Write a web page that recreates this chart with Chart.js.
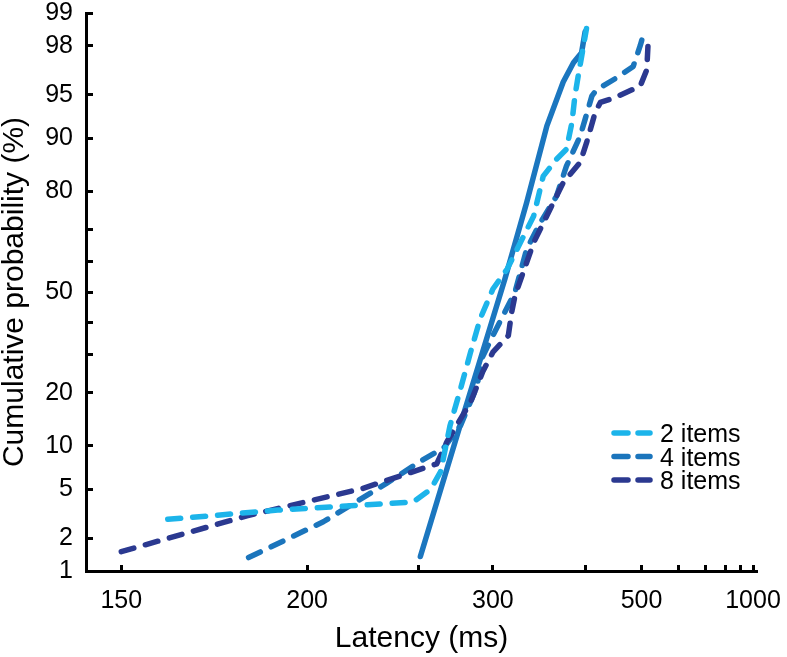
<!DOCTYPE html>
<html>
<head>
<meta charset="utf-8">
<script src="https://cdn.jsdelivr.net/npm/chart.js@4.4.1/dist/chart.umd.min.js"></script>
<style>
  html, body { margin: 0; padding: 0; background: #fff; }
  #wrap { width: 787px; height: 657px; }
</style>
</head>
<body>
<div id="wrap"><canvas id="chart" width="787" height="657"></canvas></div>
<script>
// latency (ms) vs cumulative probability (%)
const latency2 = [160, 190, 247, 257, 263, 269, 276, 283, 290, 300, 312, 324, 337, 347, 362, 374, 381, 385, 390, 394, 401];
const prob2 = [2.9, 3.45, 4.0, 5.0, 6.7, 13.3, 21, 30.8, 41.1, 51, 57.6, 66, 73.7, 83.3, 86.6, 88.3, 92.1, 94.9, 96.6, 97.5, 98.6];

const latency4 = [181, 206, 233, 251, 265, 276, 288, 290, 300, 319, 330, 344, 362, 374, 392, 399, 409, 416, 450, 482, 497, 504];
const prob4 = [1.34, 2.77, 5.5, 7.9, 9.7, 13.3, 21.8, 28, 35.8, 50, 64, 71.9, 78.8, 85.3, 90.3, 92.5, 94.9, 95.4, 96.3, 97.0, 98.0, 98.4];

const latency8 = [150, 180.5, 222, 260.6, 267, 276, 283, 292, 300, 313, 316, 319, 337, 354.5, 370, 392, 401, 414, 422, 444, 497, 512, 516];
const prob8 = [1.52, 3.1, 5.06, 7.6, 10.6, 14.5, 17.9, 25.3, 30.8, 35.8, 43.4, 48.8, 66, 75.5, 81.9, 86, 89.3, 93.3, 94.3, 94.7, 95.7, 96.8, 98.35];

// solid line (no legend entry)
const latencyFit = [251, 273, 310, 330, 351, 370, 383, 394, 399];
const probFit = [1.37, 11.1, 54.3, 77.2, 91.7, 96.0, 97.2, 97.7, 98.5];

const xTicksMs = [150, 200, 250, 300, 400, 500, 600, 700, 800, 900, 1000];
const xLabelsMs = [150, 200, 300, 500, 1000];
const yTicksPct = [1, 2, 5, 10, 20, 30, 40, 50, 60, 70, 80, 90, 95, 98, 99];
const yLabelsPct = [1, 2, 5, 10, 20, 50, 80, 90, 95, 98, 99];
const xMinMs = 143.2, xMaxMs = 1037;

const seriesNames = ["2 items", "4 items", "8 items"];
const colors = ["#1cb4ea", "#1b75bc", "#2b3990"];
const fitColor = "#1b76bf";

const FONT = '"Liberation Sans", Arial, Helvetica, sans-serif';
Chart.defaults.font.family = FONT;

// reciprocal time axis, probit probability axis
const recip = ms => -1000 / ms;

function probit(p) {
  const a = [-3.969683028665376e+01, 2.209460984245205e+02, -2.759285104469687e+02, 1.383577518672690e+02, -3.066479806614716e+01, 2.506628277459239e+00];
  const b = [-5.447609879822406e+01, 1.615858368580409e+02, -1.556989798598866e+02, 6.680131188771972e+01, -1.328068155288572e+01];
  const c = [-7.784894002430293e-03, -3.223964580411365e-01, -2.400758277161838e+00, -2.549732539343734e+00, 4.374664141464968e+00, 2.938163982698783e+00];
  const d = [7.784695709041462e-03, 3.224671290700398e-01, 2.445134137142996e+00, 3.754408661907416e+00];
  const pl = 0.02425;
  let q, r;
  if (p < pl) {
    q = Math.sqrt(-2 * Math.log(p));
    return (((((c[0]*q+c[1])*q+c[2])*q+c[3])*q+c[4])*q+c[5]) / ((((d[0]*q+d[1])*q+d[2])*q+d[3])*q+1);
  }
  if (p > 1 - pl) {
    q = Math.sqrt(-2 * Math.log(1 - p));
    return -(((((c[0]*q+c[1])*q+c[2])*q+c[3])*q+c[4])*q+c[5]) / ((((d[0]*q+d[1])*q+d[2])*q+d[3])*q+1);
  }
  q = p - 0.5; r = q * q;
  return (((((a[0]*r+a[1])*r+a[2])*r+a[3])*r+a[4])*r+a[5])*q / (((((b[0]*r+b[1])*r+b[2])*r+b[3])*r+b[4])*r+1);
}

const toPoints = (lat, prob) => lat.map((ms, i) => ({ x: recip(ms), y: probit(prob[i] / 100) }));

function series(label, lat, prob, color, dash, order) {
  return {
    label,
    data: toPoints(lat, prob),
    borderColor: color,
    borderWidth: 5.5,
    borderDash: dash,
    borderCapStyle: "round",
    borderJoinStyle: "round",
    pointRadius: 0,
    tension: 0,
    order,
  };
}

const legendPlugin = {
  id: "insideLegend",
  afterDatasetsDraw(chart) {
    const { ctx, chartArea } = chart;
    const x0 = chartArea.right - 143;
    const tx = chartArea.right - 97;
    let y = chartArea.bottom - 138;
    ctx.save();
    ctx.font = "25px " + FONT;
    ctx.textBaseline = "alphabetic";
    seriesNames.forEach((name, i) => {
      ctx.strokeStyle = colors[i];
      ctx.lineWidth = 5.5;
      ctx.lineCap = "round";
      ctx.setLineDash([14, 10]);
      ctx.beginPath();
      ctx.moveTo(x0, y);
      ctx.lineTo(x0 + 36, y);
      ctx.stroke();
      ctx.setLineDash([]);
      ctx.fillStyle = "#000";
      ctx.fillText(name, tx, y + 9);
      y += 23.5;
    });
    ctx.restore();
  },
};

const tickFont = { size: 25, lineHeight: 1 };
const titleFont = { size: 30, lineHeight: 1 };

new Chart(document.getElementById("chart"), {
  type: "line",
  data: {
    datasets: [
      series("fit", latencyFit, probFit, fitColor, [], 4),
      series(seriesNames[0], latency2, prob2, colors[0], [13, 12], 1),
      series(seriesNames[1], latency4, prob4, colors[1], [13, 12], 3),
      series(seriesNames[2], latency8, prob8, colors[2], [13, 12], 2),
    ],
  },
  options: {
    responsive: false,
    animation: false,
    devicePixelRatio: 1,
    layout: { padding: { top: 13, right: 30, bottom: 0, left: 0 } },
    plugins: { legend: { display: false }, tooltip: { enabled: false } },
    scales: {
      x: {
        type: "linear",
        min: recip(xMinMs),
        max: recip(xMaxMs),
        afterBuildTicks: (s) => { s.ticks = xTicksMs.map((ms) => ({ value: recip(ms) })); },
        afterFit: (s) => { s.height = 86; s.paddingLeft = 0; s.paddingRight = 0; },
        ticks: {
          autoSkip: false,
          maxRotation: 0,
          padding: 24,
          color: "#000",
          font: tickFont,
          callback: (v, i) => (xLabelsMs.includes(xTicksMs[i]) ? String(xTicksMs[i]) : ""),
        },
        grid: { drawOnChartArea: false, tickLength: -6, tickWidth: 3, tickColor: "#000" },
        border: { color: "#000", width: 3 },
        title: { display: true, text: "Latency (ms)", color: "#000", font: { size: 30, lineHeight: 1.2 }, padding: 0 },
      },
      y: {
        type: "linear",
        min: probit(0.01),
        max: probit(0.99),
        afterBuildTicks: (s) => { s.ticks = yTicksPct.map((p) => ({ value: probit(p / 100) })); },
        afterFit: (s) => { s.width = 86; s.paddingTop = 0; s.paddingBottom = 0; },
        ticks: {
          autoSkip: false,
          padding: 20,
          color: "#000",
          font: tickFont,
          callback: (v, i) => (yLabelsPct.includes(yTicksPct[i]) ? String(yTicksPct[i]) : ""),
        },
        grid: { drawOnChartArea: false, tickLength: -7, tickWidth: 3, tickColor: "#000" },
        border: { color: "#000", width: 3 },
        title: { display: true, text: "Cumulative probability (%)", color: "#000", font: titleFont, padding: 0 },
      },
    },
  },
  plugins: [legendPlugin],
});
</script>
</body>
</html>
